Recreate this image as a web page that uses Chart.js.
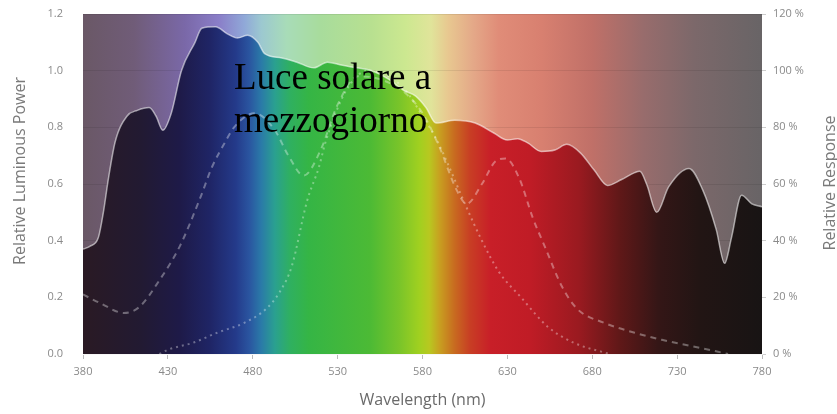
<!DOCTYPE html>
<html>
<head>
<meta charset="utf-8">
<script src="https://cdn.jsdelivr.net/npm/chart.js@4.4.1/dist/chart.umd.min.js"></script>
<style>
  body { margin: 0; background: #fff; }
  #wrap { position: relative; width: 837px; height: 414px; }
  #note {
    position: absolute; left: 234px; top: 55px;
    font: 37px "Liberation Serif", "Times New Roman", serif;
    line-height: 43px; color: #000;
  }
</style>
</head>
<body>
<div id="wrap">
  <canvas id="chart" width="837" height="414"></canvas>
  <div id="note">Luce solare a<br>mezzogiorno</div>
</div>
<script>
// Luce solare (Relative Luminous Power), asse sinistro
const sunWl = [380, 384, 389, 392, 395, 399, 406, 412, 419, 423, 427, 432, 438, 446, 450, 458, 465, 471, 477, 483, 487,
  497, 506, 516, 524, 532, 541, 550, 560, 569, 576, 582, 588, 599, 611, 622, 630, 636, 642, 650, 658, 665, 673,
  681, 689, 697, 705, 708, 712, 718, 725, 737, 745, 753, 758, 762, 768, 774, 780];
const sunPower = [0.37, 0.38, 0.41, 0.50, 0.62, 0.75, 0.84, 0.86, 0.87, 0.84, 0.79, 0.85, 1.00, 1.10, 1.15, 1.155, 1.13, 1.115, 1.125, 1.10, 1.06,
  1.045, 1.03, 1.01, 1.03, 1.02, 1.01, 1.00, 0.97, 0.93, 0.91, 0.87, 0.815, 0.825, 0.815, 0.78, 0.755, 0.76, 0.745, 0.715, 0.72, 0.74, 0.71,
  0.65, 0.595, 0.615, 0.64, 0.645, 0.60, 0.50, 0.59, 0.655, 0.58, 0.44, 0.32, 0.41, 0.56, 0.53, 0.52];

// Risposta tratteggiata (Relative Response %), asse destro
const dashWl = [380, 390, 404, 413, 425, 437, 449, 456, 463, 469, 481, 493, 501, 510, 520, 530, 542, 555, 570, 580, 590, 600, 606,
  615, 623, 629, 637, 645, 652, 662, 671, 687, 705, 721, 741, 760];
const dashResp = [21, 18, 14.5, 16.5, 26, 38, 55, 66, 74, 80, 85, 79, 70, 63, 72, 88, 98, 97, 92, 85, 73, 58, 53,
  60, 68, 69, 62, 48, 38, 24, 16, 11, 7.5, 5, 2.5, 0];

// Risposta punteggiata (Relative Response %), asse destro
const dotWl = [425, 430, 445, 459, 475, 488, 496, 503, 512, 519, 523, 535, 548, 560, 570, 580, 588, 595, 605, 615, 625, 638, 654, 669, 690];
const dotResp = [0, 1.5, 4, 7.5, 11, 16, 22, 31, 54, 66, 75, 93, 100, 98, 93, 84, 76, 67, 53, 40, 29, 20, 9.5, 4, 0];

// colori dello spettro (sotto la curva) e versione sbiadita (sopra)
const deepStops = [[380, '#2a1a24'], [414, '#221a32'], [437, '#1e1a48'], [455, '#1f2566'], [470, '#243a8a'], [478, '#2a55a0'],
  [485, '#2a7aa8'], [493, '#2aa090'], [502, '#2fb060'], [513, '#35b545'], [549, '#4cba35'], [566, '#78c42a'], [578, '#a0d020'],
  [584, '#b8c820'], [590, '#c8a020'], [599, '#c86a20'], [608, '#c83e24'], [620, '#c81f28'], [643, '#c01c26'], [672, '#9a1a20'],
  [696, '#601818'], [719, '#341616'], [743, '#221514'], [780, '#181414']];
const paleStops = [[380, '#6a5866'], [410, '#705c78'], [440, '#7a68a8'], [460, '#8a7ec8'], [475, '#90a8d8'], [485, '#9cc8d0'],
  [500, '#a8dcb8'], [520, '#a8dc9c'], [550, '#b8e090'], [570, '#cce890'], [585, '#e0e49a'], [595, '#e8c890'], [610, '#e4a888'],
  [625, '#e08c78'], [650, '#d88070'], [680, '#c07068'], [710, '#986c6c'], [740, '#7c686a'], [780, '#686466']];

const toPts = (xs, ys) => xs.map((x, i) => ({ x: x, y: ys[i] }));

function spectrum(chart, stops) {
  const xs = chart.scales.x;
  const g = chart.ctx.createLinearGradient(xs.getPixelForValue(380), 0, xs.getPixelForValue(780), 0);
  stops.forEach(s => g.addColorStop((s[0] - 380) / 400, s[1]));
  return g;
}

function sideTitle(ctx, text, x, y) {
  ctx.save();
  ctx.fillStyle = '#7a7a7a';
  ctx.font = '16px "Open Sans", sans-serif';
  ctx.textAlign = 'center';
  ctx.textBaseline = 'middle';
  ctx.translate(x, y);
  ctx.rotate(-Math.PI / 2);
  ctx.fillText(text, 0, 0);
  ctx.restore();
}

const backdrop = {
  id: 'backdrop',
  beforeDraw(chart) {
    const a = chart.chartArea;
    const ctx = chart.ctx;
    ctx.save();
    ctx.fillStyle = spectrum(chart, paleStops);
    ctx.fillRect(a.left, a.top, a.right - a.left, a.bottom - a.top);
    ctx.restore();
  },
  afterDraw(chart) {
    // entrambi i titoli verticali letti dal basso verso l'alto
    sideTitle(chart.ctx, 'Relative Luminous Power', 20, 171);
    sideTitle(chart.ctx, 'Relative Response', 830, 183);
  }
};

const tickFont = { family: '"Open Sans", sans-serif', size: 11 };

new Chart(document.getElementById('chart'), {
  type: 'line',
  data: {
    datasets: [
      {
        label: 'Luce solare',
        data: toPts(sunWl, sunPower),
        yAxisID: 'y',
        fill: 'origin',
        backgroundColor: ctx => ctx.chart.chartArea ? spectrum(ctx.chart, deepStops) : 'transparent',
        borderColor: 'rgba(255,255,255,0.55)',
        borderWidth: 1.5,
        pointRadius: 0,
        cubicInterpolationMode: 'monotone',
        order: 3
      },
      {
        label: 'Risposta 1',
        data: toPts(dashWl, dashResp),
        yAxisID: 'y1',
        fill: false,
        borderColor: 'rgba(255,255,255,0.35)',
        borderWidth: 2,
        borderDash: [6, 5],
        pointRadius: 0,
        cubicInterpolationMode: 'monotone',
        order: 1
      },
      {
        label: 'Risposta 2',
        data: toPts(dotWl, dotResp),
        yAxisID: 'y1',
        fill: false,
        borderColor: 'rgba(255,255,255,0.35)',
        borderWidth: 2,
        borderDash: [2, 4],
        pointRadius: 0,
        cubicInterpolationMode: 'monotone',
        order: 2
      }
    ]
  },
  options: {
    responsive: false,
    animation: false,
    layout: { padding: { top: 14, right: 0, left: 0, bottom: 0 } },
    plugins: { legend: { display: false }, tooltip: { enabled: false } },
    scales: {
      x: {
        type: 'linear',
        min: 380,
        max: 780,
        z: 1,
        ticks: { stepSize: 50, color: '#8a8a8a', font: tickFont, padding: 6 },
        grid: { drawOnChartArea: false, tickLength: 5, color: '#bbbbbb' },
        border: { color: 'rgba(255,255,255,0.6)' },
        title: { display: true, text: 'Wavelength (nm)', color: '#6a6a6a',
                 font: { family: '"Open Sans", sans-serif', size: 16 }, padding: { top: 2, bottom: 4 } },
        afterFit: s => { s.height = 60; }
      },
      y: {
        position: 'left',
        min: 0,
        max: 1.2,
        z: 1,
        ticks: { stepSize: 0.2, color: '#8a8a8a', font: tickFont, padding: 4, callback: v => v.toFixed(1) },
        grid: { color: 'rgba(0,0,0,0.08)', tickLength: 16, tickColor: 'transparent' },
        border: { display: false },
        afterFit: s => { s.width = 83; }
      },
      y1: {
        position: 'right',
        min: 0,
        max: 120,
        ticks: { stepSize: 20, color: '#8a8a8a', font: tickFont, padding: 7, callback: v => v + ' %' },
        grid: { drawOnChartArea: false, tickLength: 4, color: '#cccccc' },
        border: { display: false },
        afterFit: s => { s.width = 75; }
      }
    }
  },
  plugins: [backdrop]
});
</script>
</body>
</html>
